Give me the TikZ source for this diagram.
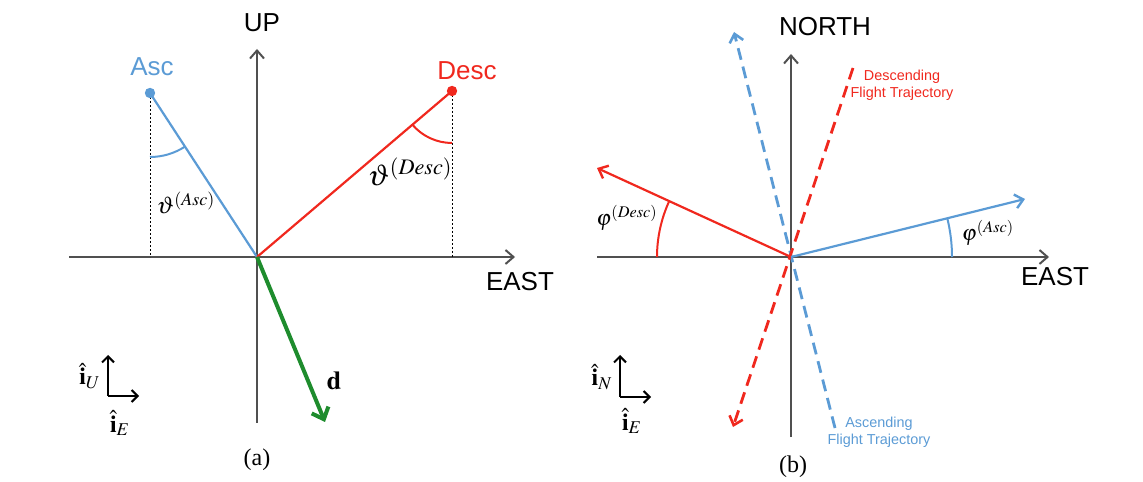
\documentclass[tikz,border=0pt]{standalone}
\usepackage{mathptmx}
\usepackage{fontspec}
\setmainfont{Liberation Serif}
\setsansfont{Liberation Sans}
\usetikzlibrary{arrows.meta}
\definecolor{cblue}{HTML}{5B9BD5}
\definecolor{cred}{HTML}{F0281E}
\definecolor{cgreen}{HTML}{1E8C2D}
\definecolor{cgrey}{HTML}{505050}

\begin{document}
\begin{tikzpicture}[x=0.5pt,y=0.5pt,
  axis/.style={draw=cgrey,line width=0.9pt,-{Straight Barb[length=4pt,width=7pt,line width=1pt]},shorten >=-1pt},
  vec/.style={line width=1.1pt,-{Straight Barb[length=4pt,width=7pt,line width=1.2pt]}},
  traj/.style={line width=1.4pt,dash pattern=on 6pt off 3.5pt,-{Straight Barb[length=4pt,width=7pt,line width=1.3pt]}},
  drop/.style={black,line width=0.5pt,dash pattern=on 1.2pt off 0.8pt},
  frame/.style={black,line width=1pt,-{Straight Barb[length=3pt,width=6pt,line width=1pt]}},
  lab/.style={font=\sffamily\fontsize{13}{15}\selectfont,inner sep=0pt},
  small/.style={font=\sffamily\fontsize{7.2}{8.6}\selectfont,align=center,inner sep=0pt},
  caption/.style={font=\fontsize{12}{14}\selectfont,inner sep=0pt}]
  \useasboundingbox (0,0) rectangle (1143,481);
  % (a) east-up plane
  \coordinate (Oa) at (257,224);
  \coordinate (aS) at (257,58);
  \coordinate (aN) at (257,430);
  \coordinate (aW) at (69,224);
  \coordinate (aE) at (513,224);
  \coordinate (asc) at (150,388);
  \coordinate (desc) at (452,390);
  \coordinate (ascF) at (150,224);
  \coordinate (descF) at (452,224);
  \coordinate (dtip) at (325,59);
  \draw[axis] (aS) -- (aN);
  \draw[axis] (aW) -- (aE);
  \node[lab] (up) at (262,458) {UP};
  \node[lab] (eastA) at (520,199) {EAST};
  \draw[drop] (asc) -- (ascF);
  \draw[drop] (desc) -- (descF);
  \draw[cblue,line width=1.1pt] (asc) -- (Oa);
  \draw[cred,line width=1.1pt] (desc) -- (Oa);
  \fill[cblue] (asc) circle[radius=2.6pt];
  \fill[cred] (desc) circle[radius=2.6pt];
  \node[lab,text=cblue] (ascL) at (152,414) {Asc};
  \node[lab,text=cred] (descL) at (467,410) {Desc};
  \draw[cblue,line width=1pt] (asc) ++(-90:32pt) arc[start angle=-90,end angle=-57,radius=32pt];
  \draw[cred,line width=1pt] (desc) ++(-139.6:26pt) arc[start angle=-139.6,end angle=-90,radius=26pt];
  \node[inner sep=0pt,font=\fontsize{12}{14}\selectfont] (thA) at (186,278) {$\vartheta^{(Asc)}$};
  \node[inner sep=0pt,font=\fontsize{15}{17}\selectfont] (thD) at (410,309) {$\vartheta^{(Desc)}$};
  \draw[vec,cgreen,line width=2pt,-{Straight Barb[length=5pt,width=9pt,line width=2pt]}] (Oa) -- (dtip);
  \node[inner sep=0pt,font=\fontsize{13}{15}\selectfont] (dL) at (334,100) {$\mathbf{d}$};
  \coordinate (fa) at (108,85);
  \coordinate (faU) at (108,126);
  \coordinate (faE) at (139,85);
  \draw[frame] (fa) -- (faU);
  \draw[frame] (fa) -- (faE);
  \node[inner sep=0pt,font=\fontsize{12}{14}\selectfont] (iU) at (90,105) {$\hat{\mathbf{i}}_U$};
  \node[inner sep=0pt,font=\fontsize{12}{14}\selectfont] (iEa) at (120,58) {$\hat{\mathbf{i}}_E$};
  \node[caption] (capA) at (257,21) {(a)};
  % (b) east-north plane
  \coordinate (Ob) at (791,224);
  \coordinate (bS) at (791,44);
  \coordinate (bN) at (791,425);
  \coordinate (bW) at (597,224);
  \coordinate (bE) at (1047,224);
  \coordinate (phiD) at (597,313);
  \coordinate (phiA) at (1025,282);
  \coordinate (ascTop) at (734,449);
  \coordinate (ascBot) at (835,53);
  \coordinate (descTop) at (853,413);
  \coordinate (descBot) at (733,54);
  \draw[axis] (bS) -- (bN);
  \draw[axis] (bW) -- (bE);
  \node[lab] (north) at (825,454) {NORTH};
  \node[lab] (eastB) at (1055,204) {EAST};
  \draw[traj,cblue] (ascBot) -- (ascTop);
  \draw[traj,cred] (descTop) -- (descBot);
  \draw[vec,cred] (Ob) -- (phiD);
  \draw[vec,cblue] (Ob) -- (phiA);
  \draw[cred,line width=1pt] (Ob) ++(180:67pt) arc[start angle=180,end angle=155.4,radius=67pt];
  \draw[cblue,line width=1pt] (Ob) ++(0:80.5pt) arc[start angle=0,end angle=13.9,radius=80.5pt];
  \node[inner sep=0pt,font=\fontsize{11}{13}\selectfont] (phD) at (627,263) {$\varphi^{(Desc)}$};
  \node[inner sep=0pt,font=\fontsize{11}{13}\selectfont] (phA) at (988,248) {$\varphi^{(Asc)}$};
  \node[small,text=cred] (descTxt) at (902,396) {Descending\\Flight Trajectory};
  \node[small,text=cblue] (ascTxt) at (879,49) {Ascending\\Flight Trajectory};
  \coordinate (fb) at (620,84);
  \coordinate (fbN) at (620,126);
  \coordinate (fbE) at (651,84);
  \draw[frame] (fb) -- (fbN);
  \draw[frame] (fb) -- (fbE);
  \node[inner sep=0pt,font=\fontsize{12}{14}\selectfont] (iN) at (602,104) {$\hat{\mathbf{i}}_N$};
  \node[inner sep=0pt,font=\fontsize{12}{14}\selectfont] (iEb) at (632,60) {$\hat{\mathbf{i}}_E$};
  \node[caption] (capB) at (793,14) {(b)};
\end{tikzpicture}
\end{document}
